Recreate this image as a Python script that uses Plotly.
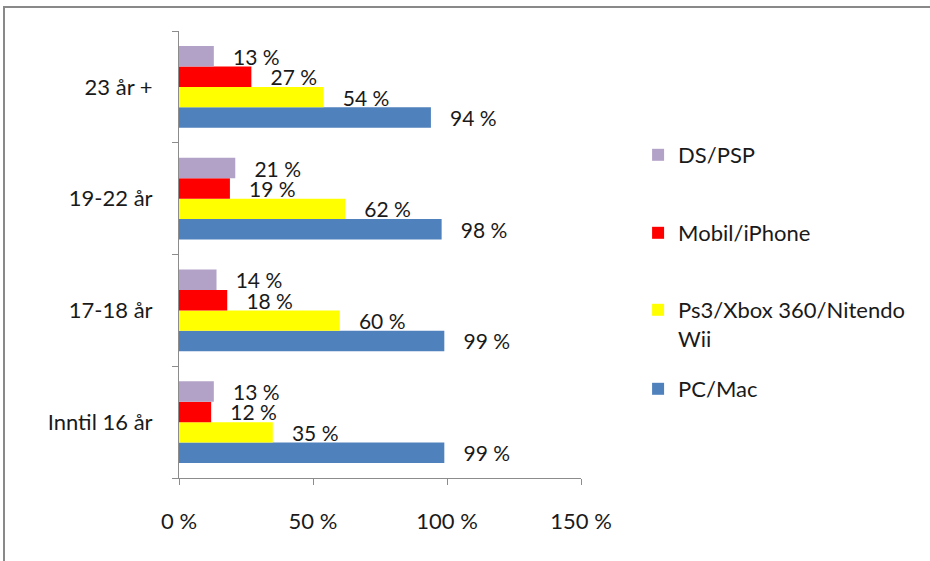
import plotly.graph_objects as go

categories = ["Inntil 16 år", "17-18 år", "19-22 år", "23 år +"]
series_names = ["PC/Mac", "Ps3/Xbox 360/Nitendo<br>Wii", "Mobil/iPhone", "DS/PSP"]
pc_mac = [99, 99, 98, 94]
ps3_xbox_wii = [35, 60, 62, 54]
mobil_iphone = [12, 18, 19, 27]
ds_psp = [13, 14, 21, 13]
x_ticks = [0, 50, 100, 150]
x_tick_labels = [f"{v} %" for v in x_ticks]

colors = ["#4F81BD", "#FFFF00", "#FF0000", "#B3A2C7"]
values = [pc_mac, ps3_xbox_wii, mobil_iphone, ds_psp]
legend_ids = ["legend4", "legend3", "legend2", "legend"]

FONT = "Lato, Carlito, Calibri, sans-serif"
PAD = "\u00a0\u00a0\u00a0"
TXT = "#1a1a1a"

fig = go.Figure()
for name, vals, col, lg in zip(series_names, values, colors, legend_ids):
    fig.add_trace(go.Bar(
        y=categories, x=vals, name=name, orientation="h",
        marker=dict(color=col, line=dict(width=0)),
        text=[f"{PAD}{v}\u00a0%" for v in vals],
        textposition="outside", constraintext="none", cliponaxis=False,
        textfont=dict(family=FONT, size=21, color=TXT),
        legend=lg, showlegend=True,
    ))

def ypaper(px):
    return (478 - px) / 447

leg_common = dict(x=1.142, xanchor="left", font=dict(family=FONT, size=22, color=TXT),
                  bgcolor="rgba(0,0,0,0)", borderwidth=0, valign="top", visible=True)

fig.update_layout(
    width=930, height=561,
    margin=dict(l=179, r=349, t=31, b=83, autoexpand=False),
    paper_bgcolor="white", plot_bgcolor="white",
    showlegend=True,
    barmode="group", bargap=0.27, bargroupgap=0,
    font=dict(family=FONT, size=22, color=TXT),
    legend=dict(y=ypaper(155), yanchor="middle", **leg_common),
    legend2=dict(y=ypaper(233), yanchor="middle", **leg_common),
    legend3=dict(y=ypaper(289), yanchor="top", **leg_common),
    legend4=dict(y=ypaper(389), yanchor="middle", **leg_common),
    xaxis=dict(range=[0, 150], tickmode="array", tickvals=x_ticks, ticktext=x_tick_labels,
               automargin=False,
               showgrid=False, zeroline=False, showline=True, linecolor="#8c8c8c", linewidth=1,
               ticks="outside", ticklen=6, tickcolor="#8c8c8c",
               tickfont=dict(family=FONT, size=22, color=TXT),
               ticklabelstandoff=18),
    yaxis=dict(categoryorder="array", categoryarray=categories, automargin=False,
               showgrid=False, zeroline=False, showline=True, linecolor="#8c8c8c", linewidth=1,
               ticks="outside", ticklen=6, tickcolor="#8c8c8c", tickson="boundaries",
               tickfont=dict(family=FONT, size=22, color=TXT),
               ticklabelstandoff=21),
    shapes=[dict(type="rect", xref="paper", yref="paper",
                 x0=(4 - 179) / 402, x1=(940 - 179) / 402,
                 y0=ypaper(570), y1=ypaper(7),
                 line=dict(color="#898989", width=2), fillcolor="rgba(0,0,0,0)", layer="below")],
)

fig.write_html("out.html", config={"displayModeBar": False},
               post_script="document.body.style.margin='0';document.body.style.overflow='hidden';")
